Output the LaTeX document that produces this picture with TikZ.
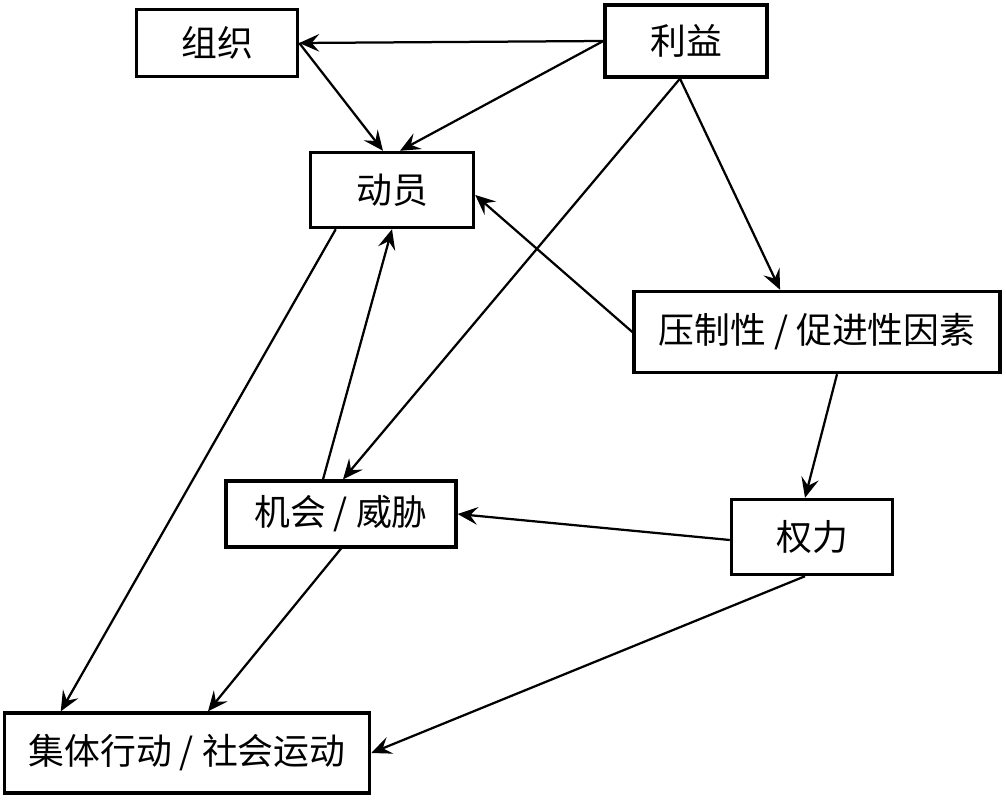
\documentclass[tikz,border=0pt]{standalone}
\usepackage{fontspec}
\newfontfamily\cjk{Noto Sans CJK SC}
\usepackage{tikz}
\usetikzlibrary{arrows.meta, positioning, calc}

\begin{document}
\begin{tikzpicture}[x=0.025cm, y=-0.025cm,
  box/.style={draw, line width=2.3pt, fill=white, inner sep=0pt,
    font=\cjk\fontsize{25.5}{30}\selectfont},
  arr/.style={line width=1.6pt, -{Stealth[length=5mm, width=4.4mm, inset=1.9mm]}}]
\useasboundingbox (0,0) rectangle (1006,800);
% boxes
\node[box, minimum width=4.03cm, minimum height=1.68cm] (zuzhi) at (217,43) {组织};
\node[box, minimum width=4.05cm, minimum height=1.80cm] (liyi) at (686,41) {利益};
\node[box, minimum width=4.08cm, minimum height=1.88cm] (dongyuan) at (392,190) {动员};
\node[box, minimum width=9.15cm, minimum height=2.03cm] (yazhi) at (817,332) {压制性 / 促进性因素};
\node[box, minimum width=5.75cm, minimum height=1.65cm] (jihui) at (341,514) {机会 / 威胁};
\node[box, minimum width=4.03cm, minimum height=1.88cm] (quanli) at (812,537) {权力};
\node[box, minimum width=9.13cm, minimum height=2.00cm] (jiti) at (187,753) {集体行动 / 社会运动};
% arrows
\draw[arr] (liyi.west) -- (zuzhi.east);
\draw[arr] (liyi.west) -- ($(dongyuan.north)+(8,0)$);
\draw[arr] (zuzhi.east) -- ($(dongyuan.north)+(-9,0)$);
\draw[arr] ($(liyi.south)+(-6,0)$) -- ($(jihui.north)+(2,0)$);
\draw[arr] ($(liyi.south)+(-6,0)$) -- ($(yazhi.north west)!0.4!(yazhi.north east)$);
\draw[arr] (yazhi.west) -- ($(dongyuan.east)+(0,5)$);
\draw[arr] ($(yazhi.south)+(20,0)$) -- ($(quanli.north)+(-7,0)$);
\draw[arr] ($(quanli.west)+(0,3)$) -- (jihui.east);
\draw[arr] ($(jihui.north)+(-18,0)$) -- (dongyuan.south);
\draw[arr] ($(dongyuan.south west)+(27,0)$) -- ($(jiti.north west)+(58,0)$);
\draw[arr] (jihui.south) -- ($(jiti.north)+(21,0)$);
\draw[arr] ($(quanli.south)+(-7,0)$) -- (jiti.east);
\end{tikzpicture}
\end{document}
